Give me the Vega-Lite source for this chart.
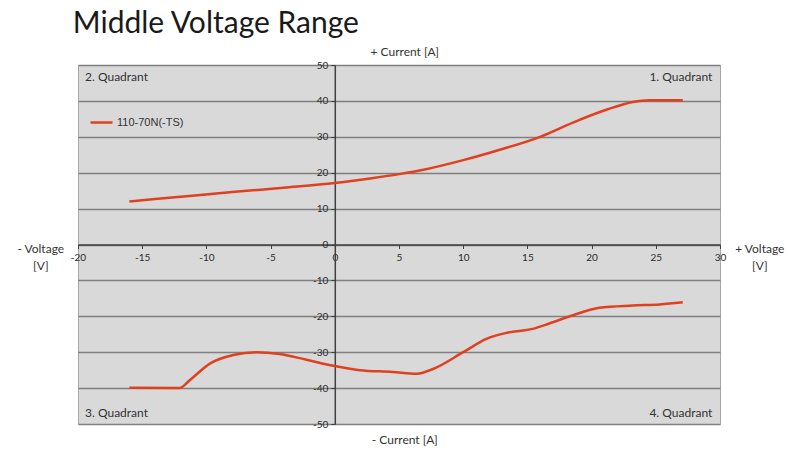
{
  "$schema": "https://vega.github.io/schema/vega-lite/v6.json",
  "width": 642,
  "height": 359,
  "autosize": {"type": "none"},
  "padding": {"left": 78, "top": 65, "right": 68, "bottom": 30},
  "background": "white",
  "config": {
    "view": {"fill": "#d9d9d9", "stroke": "#a6a6a6", "strokeWidth": 1},
    "text": {"font": "Lato", "fontSize": 12, "color": "#333333"}
  },
  "datasets": {
    "curve": [
      {"series": "110-70N(-TS)", "seg": "upper", "v": -16, "a": 12.0},
      {"series": "110-70N(-TS)", "seg": "upper", "v": -12, "a": 13.3},
      {"series": "110-70N(-TS)", "seg": "upper", "v": -8, "a": 14.6},
      {"series": "110-70N(-TS)", "seg": "upper", "v": -4, "a": 15.8},
      {"series": "110-70N(-TS)", "seg": "upper", "v": 0, "a": 17.1},
      {"series": "110-70N(-TS)", "seg": "upper", "v": 3, "a": 18.5},
      {"series": "110-70N(-TS)", "seg": "upper", "v": 5, "a": 19.6},
      {"series": "110-70N(-TS)", "seg": "upper", "v": 7, "a": 20.9},
      {"series": "110-70N(-TS)", "seg": "upper", "v": 10, "a": 23.5},
      {"series": "110-70N(-TS)", "seg": "upper", "v": 12.85, "a": 26.4},
      {"series": "110-70N(-TS)", "seg": "upper", "v": 16, "a": 30.0},
      {"series": "110-70N(-TS)", "seg": "upper", "v": 18.5, "a": 33.9},
      {"series": "110-70N(-TS)", "seg": "upper", "v": 21.2, "a": 37.6},
      {"series": "110-70N(-TS)", "seg": "upper", "v": 23.2, "a": 39.7},
      {"series": "110-70N(-TS)", "seg": "upper", "v": 24.5, "a": 40.2},
      {"series": "110-70N(-TS)", "seg": "upper", "v": 27.1, "a": 40.2},
      {"series": "110-70N(-TS)", "seg": "lower", "v": -16, "a": -39.9},
      {"series": "110-70N(-TS)", "seg": "lower", "v": -12.1, "a": -40.0},
      {"series": "110-70N(-TS)", "seg": "lower", "v": -11.3, "a": -37.8},
      {"series": "110-70N(-TS)", "seg": "lower", "v": -9.7, "a": -33.1},
      {"series": "110-70N(-TS)", "seg": "lower", "v": -7.9, "a": -30.8},
      {"series": "110-70N(-TS)", "seg": "lower", "v": -6.1, "a": -30.0},
      {"series": "110-70N(-TS)", "seg": "lower", "v": -4.3, "a": -30.5},
      {"series": "110-70N(-TS)", "seg": "lower", "v": -2.2, "a": -32.1},
      {"series": "110-70N(-TS)", "seg": "lower", "v": -0.1, "a": -33.8},
      {"series": "110-70N(-TS)", "seg": "lower", "v": 1.95, "a": -35.0},
      {"series": "110-70N(-TS)", "seg": "lower", "v": 4.5, "a": -35.5},
      {"series": "110-70N(-TS)", "seg": "lower", "v": 6.4, "a": -36.0},
      {"series": "110-70N(-TS)", "seg": "lower", "v": 7.7, "a": -34.6},
      {"series": "110-70N(-TS)", "seg": "lower", "v": 10.0, "a": -30.0},
      {"series": "110-70N(-TS)", "seg": "lower", "v": 11.8, "a": -26.3},
      {"series": "110-70N(-TS)", "seg": "lower", "v": 13.4, "a": -24.6},
      {"series": "110-70N(-TS)", "seg": "lower", "v": 15.4, "a": -23.5},
      {"series": "110-70N(-TS)", "seg": "lower", "v": 16.7, "a": -22.0},
      {"series": "110-70N(-TS)", "seg": "lower", "v": 18.56, "a": -19.7},
      {"series": "110-70N(-TS)", "seg": "lower", "v": 20.6, "a": -17.6},
      {"series": "110-70N(-TS)", "seg": "lower", "v": 23.2, "a": -17.0},
      {"series": "110-70N(-TS)", "seg": "lower", "v": 25.3, "a": -16.7},
      {"series": "110-70N(-TS)", "seg": "lower", "v": 27.1, "a": -16.1}
    ]
  },
  "encoding": {
    "x": {
      "field": "v",
      "type": "quantitative",
      "scale": {"domain": [-20, 30], "nice": false, "zero": false},
      "axis": {
        "orient": "bottom",
        "offset": -179.5,
        "values": [-20, -15, -10, -5, 0, 5, 10, 15, 20, 25, 30],
        "labelExpr": "'' + datum.value",
        "title": null,
        "grid": false,
        "domainColor": "#404040",
        "domainWidth": 1.5,
        "tickColor": "#404040",
        "tickSize": 4,
        "labelFont": "Lato",
        "labelFontSize": 10,
        "labelColor": "#2a2a2a",
        "labelPadding": 4,
        "labelFlush": false,
        "labelOverlap": false
      }
    },
    "y": {
      "field": "a",
      "type": "quantitative",
      "scale": {"domain": [-50, 50], "nice": false, "zero": false},
      "axis": {
        "orient": "left",
        "offset": -256.8,
        "values": [-50, -40, -30, -20, -10, 0, 10, 20, 30, 40, 50],
        "labelExpr": "'' + datum.value",
        "title": null,
        "grid": true,
        "gridColor": "#808080",
        "gridWidth": 1.5,
        "gridOpacity": 1,
        "domainColor": "#404040",
        "domainWidth": 1.5,
        "tickColor": "#404040",
        "tickSize": 4,
        "labelFont": "Lato",
        "labelFontSize": 10,
        "labelColor": "#2a2a2a",
        "labelPadding": 3,
        "labelFlush": false,
        "labelOverlap": false
      }
    }
  },
  "layer": [
    {
      "data": {"name": "curve"},
      "mark": {"type": "line", "interpolate": "monotone", "strokeWidth": 2.5},
      "encoding": {
        "color": {
          "field": "series",
          "type": "nominal",
          "scale": {"range": ["#e0401f"]},
          "legend": {
            "orient": "none",
            "legendX": 11,
            "legendY": 45,
            "title": null,
            "padding": 0,
            "symbolType": "stroke",
            "symbolSize": 484,
            "symbolStrokeWidth": 2.5,
            "labelFont": "Liberation Sans",
            "labelFontSize": 11,
            "labelColor": "#333333",
            "labelOffset": 3
          }
        },
        "detail": {"field": "seg"}
      }
    },
    {
      "data": {"values": [{"label": "Middle Voltage Range", "v": -20.4, "a": 58.9}]},
      "mark": {"type": "text", "align": "left", "baseline": "alphabetic", "fontSize": 30, "color": "#1a1a1a"},
      "encoding": {"text": {"field": "label"}}
    },
    {
      "data": {"values": [{"label": "2. Quadrant", "v": -19.45, "a": 46.7}, {"label": "3. Quadrant", "v": -19.45, "a": -46.9}]},
      "mark": {"type": "text", "align": "left", "baseline": "middle"},
      "encoding": {"text": {"field": "label"}}
    },
    {
      "data": {"values": [{"label": "1. Quadrant", "v": 29.4, "a": 46.7}, {"label": "4. Quadrant", "v": 29.4, "a": -46.9}]},
      "mark": {"type": "text", "align": "right", "baseline": "middle"},
      "encoding": {"text": {"field": "label"}}
    },
    {
      "data": {"values": [{"label": "+ Current [A]", "v": 5.45, "a": 53.6}, {"label": "- Current [A]", "v": 5.45, "a": -54.4}]},
      "mark": {"type": "text", "align": "center", "baseline": "middle", "fontSize": 12},
      "encoding": {"text": {"field": "label"}}
    },
    {
      "data": {"values": [{"v": -22.9, "a": -1.2}]},
      "mark": {"type": "text", "align": "center", "baseline": "middle", "lineHeight": 17, "text": ["- Voltage", "[V]"]},
      "encoding": {}
    },
    {
      "data": {"values": [{"v": 33.1, "a": -1.2}]},
      "mark": {"type": "text", "align": "center", "baseline": "middle", "lineHeight": 17, "text": ["+ Voltage", "[V]"]},
      "encoding": {}
    }
  ]
}
